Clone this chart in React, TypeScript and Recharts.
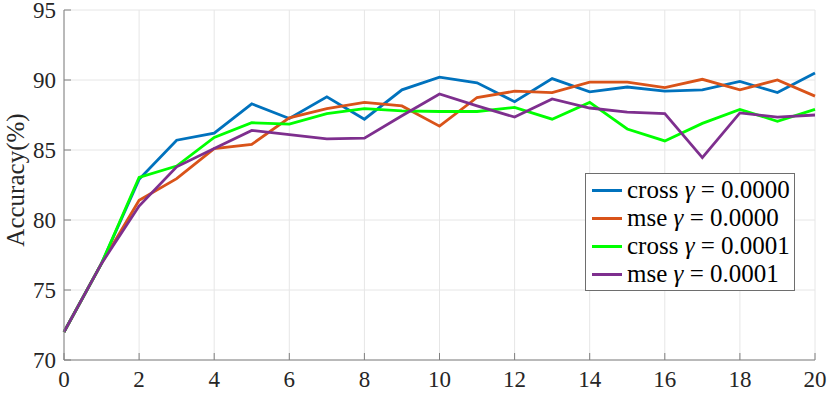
import React from 'react';
import { LineChart, Line, XAxis, YAxis, CartesianGrid, Legend } from 'recharts';

const epochs = [0, 1, 2, 3, 4, 5, 6, 7, 8, 9, 10, 11, 12, 13, 14, 15, 16, 17, 18, 19, 20];
const crossG0 = [72.0, 76.9, 82.9, 85.7, 86.2, 88.3, 87.25, 88.8, 87.2, 89.3, 90.2, 89.8, 88.45, 90.1, 89.15, 89.5, 89.2, 89.3, 89.9, 89.1, 90.5];
const mseG0 = [72.0, 76.9, 81.4, 82.95, 85.1, 85.4, 87.3, 87.95, 88.4, 88.15, 86.7, 88.75, 89.2, 89.1, 89.85, 89.85, 89.45, 90.05, 89.3, 90.0, 88.85];
const crossG1 = [72.0, 76.9, 83.05, 83.85, 85.9, 86.95, 86.85, 87.6, 87.95, 87.8, 87.75, 87.75, 88.05, 87.2, 88.4, 86.5, 85.65, 86.9, 87.9, 87.05, 87.9];
const mseG1 = [72.0, 76.9, 81.0, 83.8, 85.1, 86.4, 86.1, 85.8, 85.85, 87.45, 89.0, 88.15, 87.35, 88.65, 88.0, 87.7, 87.6, 84.45, 87.65, 87.35, 87.5];

const seriesKeys = ['crossG0', 'mseG0', 'crossG1', 'mseG1'];
const seriesLoss = ['cross', 'mse', 'cross', 'mse'];
const seriesGamma = ['0.0000', '0.0000', '0.0001', '0.0001'];
const seriesColors = ['#0072BD', '#D95319', '#00FF00', '#7E2F8E'];
const seriesValues = [crossG0, mseG0, crossG1, mseG1];

const xTicks = [0, 2, 4, 6, 8, 10, 12, 14, 16, 18, 20];
const yTicks = [70, 75, 80, 85, 90, 95];
const yLabel = 'Accuracy(%)';

const data = epochs.map((e, i) => {
  const row: Record<string, number> = { epoch: e };
  seriesKeys.forEach((k, j) => {
    row[k] = seriesValues[j][i];
  });
  return row;
});

const FONT = '"Liberation Serif", "Times New Roman", serif';
const AXIS = '#808080';
const TEXT = '#262626';
const tickStyle = { fill: TEXT, fontFamily: FONT, fontSize: 23 };

const LegendBox = () => (
  <div
    style={{
      width: 210,
      boxSizing: 'border-box',
      border: '1px solid #6e6e6e',
      background: '#fff',
      padding: '2px 0',
      fontFamily: FONT,
      fontSize: 25,
      color: '#000',
    }}
  >
    {seriesKeys.map((k, i) => (
      <div key={k} style={{ display: 'flex', alignItems: 'center', height: 28, whiteSpace: 'nowrap' }}>
        <span style={{ display: 'inline-block', width: 30, height: 3, background: seriesColors[i], marginLeft: 6, marginRight: 5 }} />
        <span>
          {seriesLoss[i]} <i>γ</i> = {seriesGamma[i]}
        </span>
      </div>
    ))}
  </div>
);

export default function App() {
  return (
    <div style={{ position: 'absolute', left: 0, top: 0, fontFamily: FONT }}>
      <LineChart width={830} height={394} data={data} margin={{ top: 10, right: 15, bottom: 0, left: 0 }}>
        <CartesianGrid stroke="#e6e6e6" strokeWidth={1} />
        <XAxis
          dataKey="epoch"
          type="number"
          domain={[0, 20]}
          ticks={xTicks}
          height={34}
          stroke={AXIS}
          tickSize={-7}
          tickMargin={18}
          tick={tickStyle}
          interval={0}
        />
        <XAxis
          xAxisId="top"
          orientation="top"
          dataKey="epoch"
          type="number"
          domain={[0, 20]}
          ticks={xTicks}
          height={0}
          stroke={AXIS}
          tickSize={-7}
          tickFormatter={() => ''}
          interval={0}
        />
        <YAxis
          type="number"
          domain={[70, 95]}
          ticks={yTicks}
          width={64}
          stroke={AXIS}
          tickSize={-7}
          tickMargin={15}
          tick={tickStyle}
          interval={0}
          label={{
            value: yLabel,
            angle: -90,
            position: 'insideLeft',
            offset: 15,
            dy: -5,
            style: { textAnchor: 'middle', fill: TEXT, fontFamily: FONT, fontSize: 25 },
          }}
        />
        <YAxis
          yAxisId="right"
          orientation="right"
          type="number"
          domain={[70, 95]}
          ticks={yTicks}
          width={0}
          stroke={AXIS}
          tickSize={-7}
          tickFormatter={() => ''}
          interval={0}
        />
        {seriesKeys.map((k, i) => (
          <Line
            key={k}
            dataKey={k}
            type="linear"
            stroke={seriesColors[i]}
            strokeWidth={2.8}
            dot={false}
            activeDot={false}
            isAnimationActive={false}
          />
        ))}
        <Legend
          layout="vertical"
          align="center"
          verticalAlign="middle"
          content={<LegendBox />}
          wrapperStyle={{ left: 585, top: 173, width: 210 }}
        />
      </LineChart>
    </div>
  );
}
